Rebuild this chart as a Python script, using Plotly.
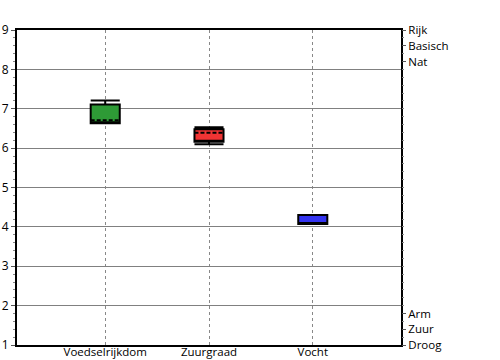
import plotly.graph_objects as go

categories = ["Voedselrijkdom", "Zuurgraad", "Vocht"]
lower = [6.63, 6.10, 4.07]
q1 = [6.63, 6.16, 4.07]
median = [6.63, 6.16, 4.07]
q3 = [7.11, 6.48, 4.30]
upper = [7.21, 6.53, 4.30]
means = [6.71, 6.39, 4.07]
fills = ["#2e9a36", "#f03434", "#3434f0"]

right_vals = [9, 8.6, 8.2, 1.8, 1.4, 1]
right_text = ["Rijk", "Basisch", "Nat", "Arm", "Zuur", "Droog"]

font = "Open Sans"
fig = go.Figure()
for i, c in enumerate(categories):
    fig.add_trace(go.Box(
        x=[c], q1=[q1[i]], median=[median[i]], q3=[q3[i]],
        lowerfence=[lower[i]], upperfence=[upper[i]], mean=[means[i]],
        boxmean=True, fillcolor=fills[i],
        line=dict(color="black", width=2), width=0.28, whiskerwidth=1,
        showlegend=False, hoverinfo="skip"))

fig.add_trace(go.Scatter(x=[categories[0]], y=[5], yaxis="y2", mode="markers",
                         marker=dict(opacity=0), showlegend=False, hoverinfo="skip"))

fig.update_layout(
    width=500, height=360, margin=dict(l=17, r=99, t=30, b=15),
    paper_bgcolor="white", plot_bgcolor="white",
    font=dict(family=font, size=12, color="black"),
    xaxis=dict(range=[-0.85, 2.85], showgrid=True, gridcolor="#888888", griddash="3px,3px",
               gridwidth=1, showline=True, linecolor="black", linewidth=2, mirror=True,
               ticks="", automargin=False, ticklabelstandoff=-5,
               tickfont=dict(size=11.5, family=font)),
    yaxis=dict(range=[1, 9], dtick=1, showgrid=True, gridcolor="#808080", gridwidth=1,
               showline=True, linecolor="black", linewidth=2, mirror=True,
               ticks="outside", ticklen=4, tickcolor="#555555", automargin=False,
               minor=dict(dtick=0.2, ticks="outside", ticklen=2, tickcolor="#888888"),
               zeroline=False, tickfont=dict(size=12, family=font)),
    yaxis2=dict(range=[1, 9], overlaying="y", side="right", tickvals=right_vals,
                ticktext=right_text, showgrid=False, zeroline=False, automargin=False,
                ticks="outside", ticklen=4, tickcolor="#555555",
                minor=dict(dtick=0.2, ticks="outside", ticklen=2, tickcolor="#888888"),
                tickfont=dict(size=11.5, family=font)),
)

fig.write_html("out.html", config={"displayModeBar": False},
               post_script="document.body.style.margin='0';")
